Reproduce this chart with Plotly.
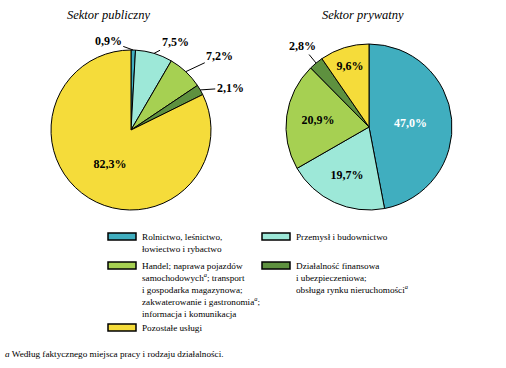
import math
import plotly.graph_objects as go

W, H = 506, 368

categories = [
    "Rolnictwo, leśnictwo,<br>łowiectwo i rybactwo",
    "Przemysł i budownictwo",
    "Handel; naprawa pojazdów<br>samochodowych<sup><i>a</i></sup>; transport<br>i gospodarka magazynowa;<br>zakwaterowanie i gastronomia<sup><i>a</i></sup>;<br>informacja i komunikacja",
    "Działalność finansowa<br>i ubezpieczeniowa;<br>obsługa rynku nieruchomości<sup><i>a</i></sup>",
    "Pozostałe usługi",
]
colors = ["#40AEBF", "#9DE8D8", "#A6D052", "#5E913F", "#F5DC3A"]
public_values = [0.9, 7.5, 7.2, 2.1, 82.3]
private_values = [47.0, 19.7, 20.9, 2.8, 9.6]
titles = ["Sektor publiczny", "Sektor prywatny"]
footnote = "<i>a</i> Według faktycznego miejsca pracy i rodzaju działalności."

SERIF = "Times New Roman, Liberation Serif, Tinos, serif"


def px(x):
    return x / W


def py(y):
    return 1 - y / H


def fmt(v):
    return f"{v:.1f}".replace(".", ",") + "%"


fig = go.Figure()

pies = [
    dict(values=public_values, cx=131, cy=130, r=80,
         pos=["none", "none", "none", "none", "inside"],
         fc=["black"] * 5,
         outside={0: (-25, -9), 1: (21, -11), 2: (34, -16), 3: (30, -2)}),
    dict(values=private_values, cx=369, cy=127, r=83,
         pos=["inside", "inside", "inside", "none", "inside"],
         fc=["white", "black", "black", "black", "black"],
         outside={3: (-14, -17)}),
]

for p in pies:
    fig.add_trace(go.Pie(
        values=p["values"],
        labels=list(categories),
        sort=False,
        direction="clockwise",
        rotation=0,
        marker=dict(colors=colors, line=dict(color="black", width=1)),
        text=[fmt(v) for v in p["values"]],
        textinfo="text",
        textposition=p["pos"],
        insidetextorientation="horizontal",
        textfont=dict(family=SERIF, size=12, color=p["fc"], weight="bold"),
        hoverinfo="label+percent",
        showlegend=False,
        domain=dict(x=[px(p["cx"] - p["r"]), px(p["cx"] + p["r"])],
                    y=[py(p["cy"] + p["r"]), py(p["cy"] - p["r"])]),
    ))
    total = sum(p["values"])
    cum = 0
    for i, v in enumerate(p["values"]):
        mid = (cum + v / 2) / total * 2 * math.pi
        cum += v
        if i in p["outside"]:
            ex = p["cx"] + p["r"] * math.sin(mid)
            ey = p["cy"] - p["r"] * math.cos(mid)
            ax, ay = p["outside"][i]
            fig.add_annotation(
                x=px(ex), y=py(ey), xref="paper", yref="paper",
                text=f"<b>{fmt(v)}</b>", showarrow=True, arrowhead=0,
                arrowwidth=1, arrowcolor="black", ax=ax, ay=ay,
                font=dict(family=SERIF, size=12, color="black"),
                standoff=0,
            )

for t, x in zip(titles, [108, 363]):
    fig.add_annotation(x=px(x), y=py(15), xref="paper", yref="paper",
                       xanchor="center", yanchor="middle",
                       text=f"<i>{t}</i>", showarrow=False,
                       font=dict(family=SERIF, size=12.5, color="black"))

legend_pos = [(108, 233), (262, 233), (108, 262), (262, 262), (108, 324)]
for cat, col, (lx, ly) in zip(categories, colors, legend_pos):
    fig.add_shape(type="rect", xref="paper", yref="paper",
                  x0=px(lx), x1=px(lx + 28), y0=py(ly + 7), y1=py(ly),
                  fillcolor=col, line=dict(color="black", width=1.5))
    fig.add_annotation(x=px(lx + 32), y=py(ly - 3), xref="paper", yref="paper",
                       xanchor="left", yanchor="top", align="left",
                       text=cat, showarrow=False,
                       font=dict(family=SERIF, size=9.2, color="black"))

fig.add_annotation(x=px(3), y=py(354), xref="paper", yref="paper",
                   xanchor="left", yanchor="middle", text=footnote,
                   showarrow=False,
                   font=dict(family=SERIF, size=9.2, color="black"))

fig.update_layout(
    width=W, height=H,
    margin=dict(l=0, r=0, t=0, b=0),
    paper_bgcolor="white", plot_bgcolor="white",
    separators=", ",
)

fig.write_html("out.html", config={"displayModeBar": False},
               post_script="document.body.style.margin='0';")
